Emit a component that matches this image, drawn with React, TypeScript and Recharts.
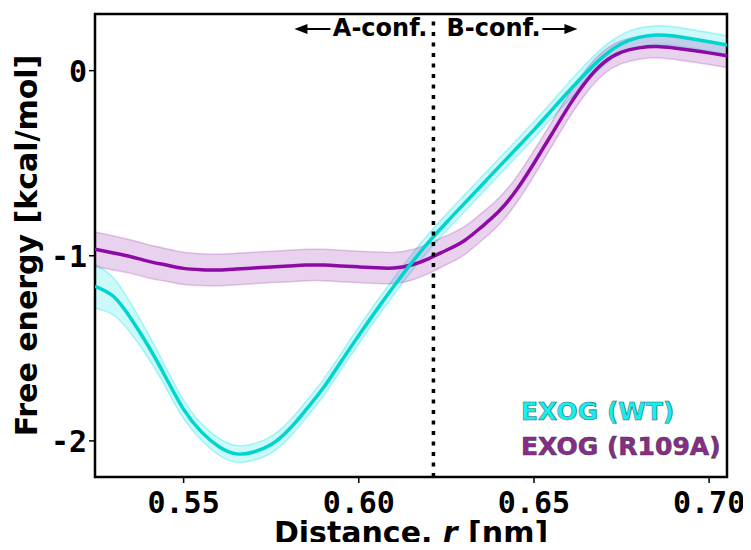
import { ComposedChart, Line, Area, XAxis, YAxis, ReferenceLine, ReferenceArea, Label } from "recharts"

// free energy profiles
const distance = [
  0.5247, 0.53, 0.535, 0.54, 0.545, 0.55, 0.555, 0.56, 0.565, 0.57, 0.575, 0.58, 0.585,
  0.59, 0.595, 0.6, 0.605, 0.61, 0.615, 0.62, 0.625, 0.63, 0.635, 0.64, 0.645, 0.65,
  0.655, 0.66, 0.665, 0.67, 0.675, 0.68, 0.685, 0.69, 0.695, 0.7, 0.7051,
]
const wtMean = [
  -1.165, -1.22, -1.34, -1.49, -1.66, -1.83, -1.95, -2.03, -2.07, -2.06, -2.02, -1.94, -1.83,
  -1.71, -1.57, -1.43, -1.295, -1.165, -1.04, -0.925, -0.82, -0.72, -0.62, -0.52, -0.42, -0.32,
  -0.215, -0.11, -0.01, 0.08, 0.145, 0.18, 0.193, 0.187, 0.172, 0.156, 0.139,
]
const wtErr = [
  0.12, 0.1, 0.08, 0.065, 0.055, 0.05, 0.045, 0.045, 0.045, 0.045, 0.045, 0.045, 0.045,
  0.045, 0.045, 0.045, 0.045, 0.045, 0.045, 0.045, 0.045, 0.045, 0.045, 0.045, 0.045, 0.045,
  0.045, 0.048, 0.05, 0.05, 0.05, 0.05, 0.05, 0.05, 0.05, 0.05, 0.05,
]
const r109aMean = [
  -0.965, -0.985, -1.005, -1.03, -1.05, -1.068, -1.075, -1.077, -1.072, -1.066, -1.06, -1.055, -1.05,
  -1.05, -1.055, -1.06, -1.065, -1.066, -1.05, -1.015, -0.97, -0.92, -0.845, -0.76, -0.645, -0.5,
  -0.345, -0.19, -0.055, 0.045, 0.1, 0.123, 0.13, 0.122, 0.11, 0.096, 0.08,
]
const r109aErr = [
  0.093, 0.092, 0.09, 0.09, 0.088, 0.087, 0.086, 0.085, 0.085, 0.085, 0.085, 0.085, 0.085,
  0.085, 0.085, 0.085, 0.085, 0.084, 0.082, 0.08, 0.078, 0.076, 0.074, 0.072, 0.07, 0.068,
  0.066, 0.065, 0.064, 0.063, 0.062, 0.061, 0.06, 0.061, 0.062, 0.063, 0.063,
]

const xTicks = [0.55, 0.6, 0.65, 0.7]
const yTicks = [-2, -1, 0]
const xDomain = [0.5247, 0.7051]
const yDomain = [-2.195, 0.306]
const boundary = 0.6213

const WT_LINE = "#00d4cf"
const WT_FILL = "#00e0e0"
const MUT_LINE = "#8e0aa6"
const MUT_FILL = "#a64cba"

const data = distance.map((d, i) => ({
  d,
  wt: wtMean[i],
  wtBand: [wtMean[i] - wtErr[i], wtMean[i] + wtErr[i]],
  r109a: r109aMean[i],
  r109aBand: [r109aMean[i] - r109aErr[i], r109aMean[i] + r109aErr[i]],
}))

const tickFont = {
  fontFamily: "'DejaVu Sans Mono', monospace",
  fontWeight: 700,
  fontSize: 30,
  fill: "#000",
}

const titleFont = {
  fontFamily: "'DejaVu Sans', sans-serif",
  fontWeight: 700,
  fontSize: 30,
  fill: "#000",
}

function XTick(props: any) {
  const { x, y, payload } = props
  return (
    <text x={x} y={y} dy={28} textAnchor="middle" style={tickFont}>
      {Number(payload.value).toFixed(2)}
    </text>
  )
}

function YTick(props: any) {
  const { x, y, payload } = props
  return (
    <text x={x} y={y} dy={11} textAnchor="end" style={tickFont}>
      {String(payload.value)}
    </text>
  )
}

function ConfLabels(props: any) {
  const { viewBox } = props
  const x = viewBox.x
  const y = viewBox.y
  const ay = y + 15
  const font = { fontFamily: "'DejaVu Sans', sans-serif", fontWeight: 700, fontSize: 24, fill: "#000" }
  return (
    <g>
      <text x={x - 6} y={y + 22} textAnchor="end" style={font}>A-conf.</text>
      <line x1={x - 103} y1={ay} x2={x - 128} y2={ay} stroke="#000" strokeWidth={2} />
      <path d={`M${x - 139},${ay} L${x - 126},${ay - 5} L${x - 126},${ay + 5} Z`} fill="#000" />
      <text x={x + 13} y={y + 22} textAnchor="start" style={font}>B-conf.</text>
      <line x1={x + 109} y1={ay} x2={x + 133} y2={ay} stroke="#000" strokeWidth={2} />
      <path d={`M${x + 144},${ay} L${x + 131},${ay - 5} L${x + 131},${ay + 5} Z`} fill="#000" />
    </g>
  )
}

function XTitle(props: any) {
  const { viewBox } = props
  const cx = viewBox.x + viewBox.width / 2
  return (
    <text x={cx} y={543} textAnchor="middle" style={titleFont}>
      Distance, <tspan fontStyle="italic">r</tspan> [nm]
    </text>
  )
}

function YTitle(props: any) {
  const { viewBox } = props
  const cy = viewBox.y + viewBox.height / 2
  const cx = 37
  return (
    <text x={cx} y={cy} textAnchor="middle" transform={`rotate(-90, ${cx}, ${cy})`} style={titleFont}>
      Free energy [kcal/mol]
    </text>
  )
}

export default function App() {
  return (
    <div style={{ position: "relative", margin: -8, width: 751, height: 550, background: "#fff" }}>
      <ComposedChart
        width={751}
        height={550}
        data={data}
        margin={{ top: 14, right: 24, bottom: 13, left: 35 }}
      >
        <XAxis
          dataKey="d"
          type="number"
          domain={xDomain}
          ticks={xTicks}
          allowDataOverflow
          axisLine={false}
          tickLine={{ stroke: "#000", strokeWidth: 1.5 }}
          tickSize={6}
          tick={<XTick />}
          height={60}
        >
          <Label content={<XTitle />} />
        </XAxis>
        <YAxis
          type="number"
          domain={yDomain}
          ticks={yTicks}
          allowDataOverflow
          axisLine={false}
          tickLine={{ stroke: "#000", strokeWidth: 1.5 }}
          tickSize={6}
          tick={<YTick />}
          width={60}
        >
          <Label content={<YTitle />} />
        </YAxis>
        <Area
          dataKey="wtBand"
          type="natural"
          fill={WT_FILL}
          fillOpacity={0.2}
          stroke={WT_FILL}
          strokeOpacity={0.3}
          strokeWidth={1.5}
          isAnimationActive={false}
        />
        <Area
          dataKey="r109aBand"
          type="natural"
          fill={MUT_FILL}
          fillOpacity={0.25}
          stroke={MUT_FILL}
          strokeOpacity={0.3}
          strokeWidth={1.5}
          isAnimationActive={false}
        />
        <Line
          dataKey="r109a"
          type="natural"
          stroke={MUT_LINE}
          strokeWidth={3.5}
          dot={false}
          activeDot={false}
          isAnimationActive={false}
        />
        <Line
          dataKey="wt"
          type="natural"
          stroke={WT_LINE}
          strokeWidth={3.5}
          dot={false}
          activeDot={false}
          isAnimationActive={false}
        />
        <ReferenceLine
          x={boundary}
          stroke="#000"
          strokeWidth={3.5}
          strokeDasharray="4 6.5"
          label={<ConfLabels />}
        />
        <ReferenceArea
          x1={xDomain[0]}
          x2={xDomain[1]}
          y1={yDomain[0]}
          y2={yDomain[1]}
          fill="none"
          stroke="#000"
          strokeWidth={2.5}
          ifOverflow="visible"
        />
      </ComposedChart>
      <svg
        width={751}
        height={550}
        style={{ position: "absolute", left: 0, top: 0, pointerEvents: "none" }}
      >
        <g style={{ fontFamily: "'DejaVu Sans', sans-serif", fontWeight: 700, fontSize: 25 }}>
          <text x={521} y={420} fill="#12f0f0" stroke="#3a6a6a" strokeWidth={0.6}>EXOG (WT)</text>
          <text x={521} y={455} fill="#8a2a8c" stroke="#444" strokeWidth={0.6}>EXOG (R109A)</text>
        </g>
      </svg>
    </div>
  )
}
